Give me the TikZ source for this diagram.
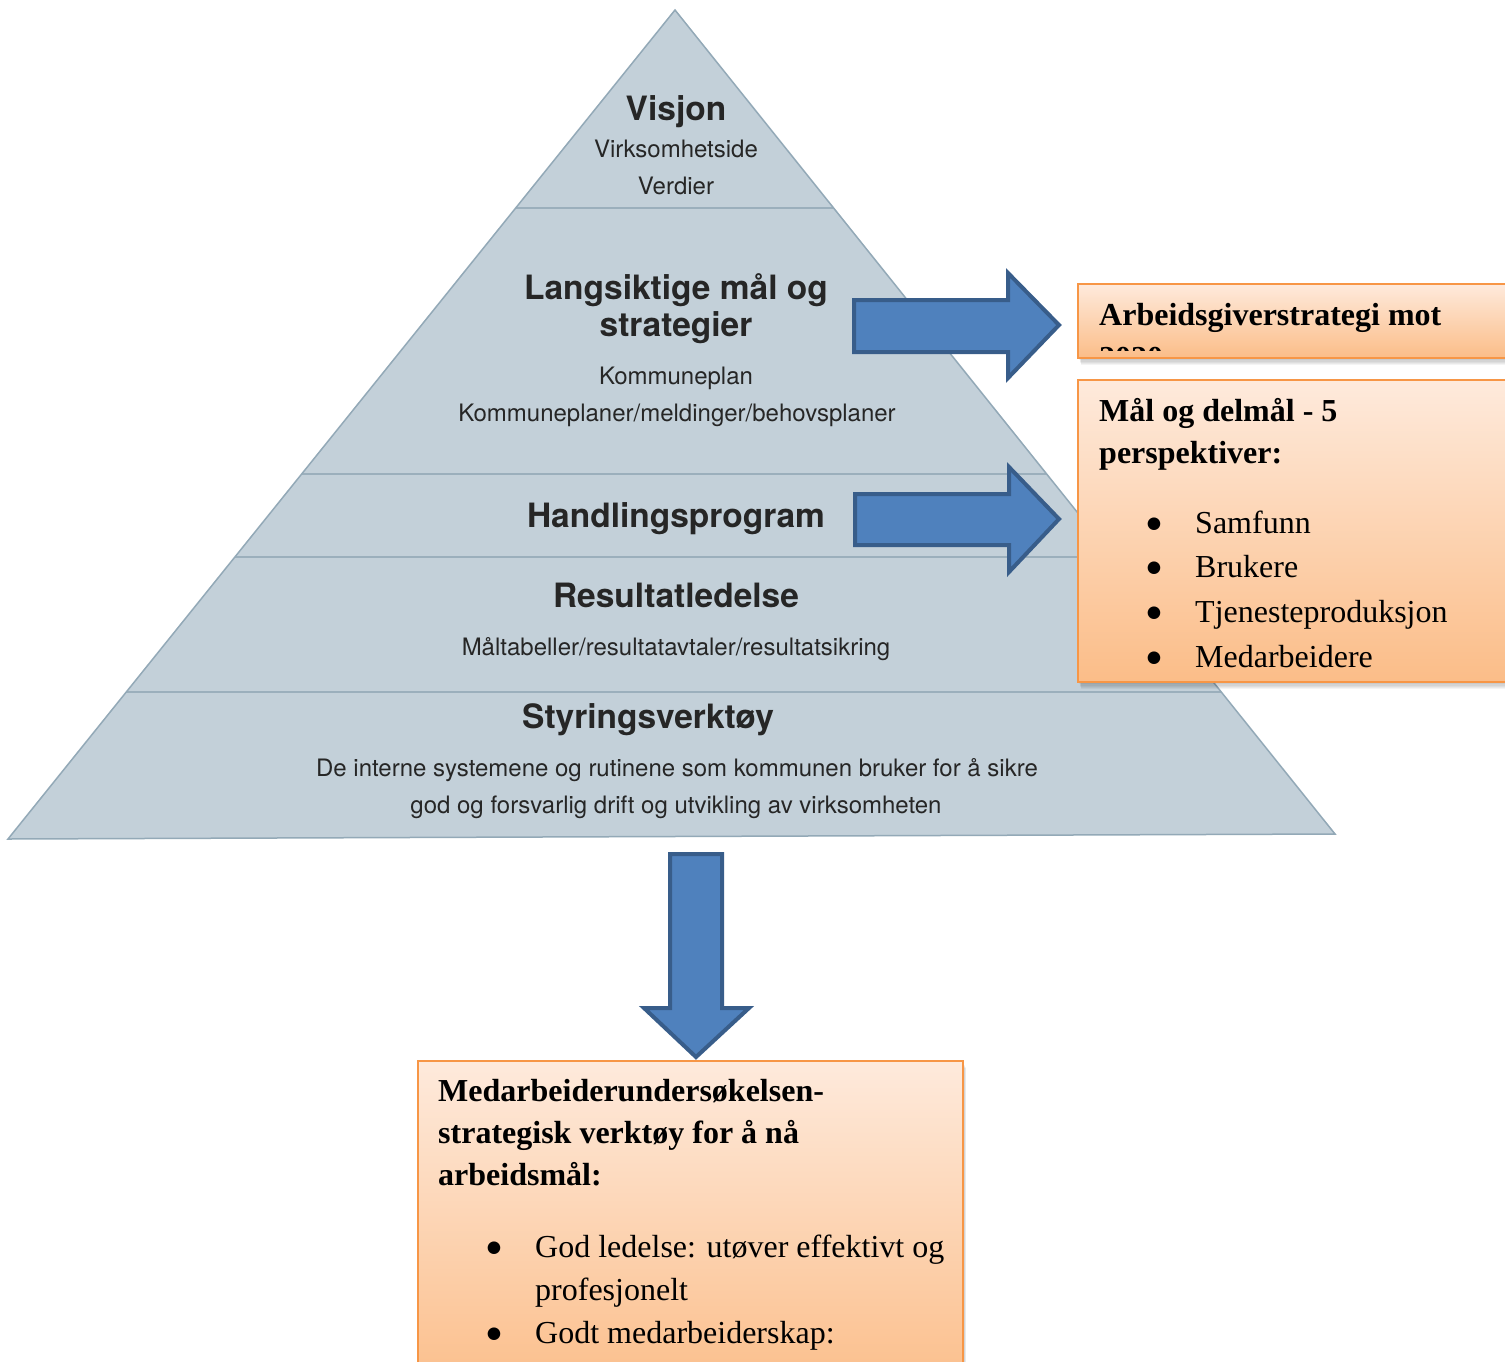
\documentclass[tikz,border=0pt]{standalone}
\usepackage{fontspec}
\setmainfont{Liberation Serif}
\newfontfamily\pyrsans{TeX Gyre Heros}
\newfontfamily\dotfont{DejaVu Sans}

\definecolor{pyrfill}{HTML}{C3D0D9}
\definecolor{pyredge}{HTML}{93A9B7}
\definecolor{pyrline}{HTML}{9BAFBC}
\definecolor{pyrtext}{HTML}{262626}
\definecolor{arrfill}{HTML}{4F81BD}
\definecolor{arredge}{HTML}{385D8A}
\definecolor{boxedge}{HTML}{F79646}
\definecolor{boxtop}{HTML}{FEEADC}
\definecolor{boxbot}{HTML}{FBBD88}

\tikzset{
  pyrtitle/.style={font=\pyrsans\bfseries\fontsize{33.5}{40}\selectfont,
    text=pyrtext, inner sep=0pt, anchor=base},
  pyrsub/.style={font=\pyrsans\fontsize{24}{29}\selectfont,
    text=pyrtext, inner sep=0pt, anchor=base},
  blockarrow/.style={fill=arrfill, draw=arredge, line width=4pt, line join=miter},
  orangebox/.style={top color=boxtop, bottom color=boxbot, draw=boxedge,
    line width=2.5pt, inner sep=0pt, outer sep=0pt, anchor=north west},
  boxhead/.style={font=\bfseries\fontsize{32}{38}\selectfont, inner sep=0pt, anchor=base west},
  boxitem/.style={font=\fontsize{32}{38}\selectfont, inner sep=0pt, anchor=base west},
  boxbullet/.style={font=\dotfont\fontsize{16.5}{18}\selectfont, inner sep=0pt, anchor=base},
  layerline/.style={draw=pyrline, line width=2pt},
}

% soft shadow below a box: stacked, slightly offset translucent rectangles
\newcommand\softshade[4]{%
  \foreach \k in {1,...,6}{%
    \fill[black, opacity=0.045] (#1+\k*0.5,#2+\k*1.2) rectangle (#3+\k*0.5,#4+\k*1.2);}}

\begin{document}
\begin{tikzpicture}[x=1pt, y=-1pt]
\useasboundingbox (0,0) rectangle (1505,1361);
\clip (0,0) rectangle (1505,1361);
\fill[white] (0,0) rectangle (1505,1361);

% ---- pyramid ----
\coordinate (apex) at (675,10);
\coordinate (baseR) at (1335,834);
\coordinate (baseL) at (8,839);
\fill[pyrfill] (apex) -- (baseR) -- (baseL) -- cycle;
\begin{scope}
  \clip (apex) -- (baseR) -- (baseL) -- cycle;
  \draw[layerline] (0,208) -- (1505,208);
  \draw[layerline] (0,474) -- (1505,474);
  \draw[layerline] (0,557) -- (1505,557);
  \draw[layerline] (0,692) -- (1505,692);
\end{scope}
\draw[pyredge, line width=1.5pt, line join=miter] (apex) -- (baseR) -- (baseL) -- cycle;

% layer texts
\node[pyrtitle] (visjon) at (676,120) {Visjon};
\node[pyrsub] (visjonA) at (676,157) {Virksomhetside};
\node[pyrsub] (visjonB) at (676,194) {Verdier};

\node[pyrtitle] (langA) at (676,299) {Langsiktige mål og};
\node[pyrtitle] (langB) at (676,336) {strategier};
\node[pyrsub] (langC) at (676,384) {Kommuneplan};
\node[pyrsub] (langD) at (677,421) {Kommuneplaner/meldinger/behovsplaner};

\node[pyrtitle] (handling) at (676,527) {Handlingsprogram};

\node[pyrtitle] (resultat) at (676,607) {Resultatledelse};
\node[pyrsub] (resultatA) at (676,655) {Måltabeller/resultatavtaler/resultatsikring};

\node[pyrtitle] (styring) at (648,728) {Styringsverktøy};
\node[pyrsub] (styringA) at (677,776) {De interne systemene og rutinene som kommunen bruker for å sikre};
\node[pyrsub] (styringB) at (676,813) {god og forsvarlig drift og utvikling av virksomheten};

% ---- block arrows ----
\coordinate (tipA) at (1059,325);
\draw[blockarrow] (854,300) -- (1008,300) -- (1008,273) -- (tipA)
  -- (1008,378) -- (1008,352) -- (854,352) -- cycle;
\coordinate (tipB) at (1059,519);
\draw[blockarrow] (855,494) -- (1009,494) -- (1009,467) -- (tipB)
  -- (1009,572) -- (1009,545) -- (855,545) -- cycle;
\coordinate (tipC) at (696,1057);
\draw[blockarrow] (670,854) -- (722,854) -- (722,1008) -- (749,1008) -- (tipC)
  -- (644,1008) -- (670,1008) -- cycle;

% ---- strategy box ----
\softshade{1078}{284}{1525}{358}
\node[orangebox, minimum width=447pt, minimum height=74pt] (strategy) at (1078,284) {};
\node[boxhead] (strategyA) at (1099,325) {Arbeidsgiverstrategi mot};
\begin{scope}
  \clip (1080,286) rectangle (1505,350);
  \node[boxhead] (strategyB) at (1099,368) {2020};
\end{scope}

% ---- goals box ----
\softshade{1078}{380}{1525}{682}
\node[orangebox, minimum width=447pt, minimum height=302pt] (goals) at (1078,380) {};
\node[boxhead] (goalsA) at (1099,421) {Mål og delmål - 5};
\node[boxhead] (goalsB) at (1099,463) {perspektiver:};
\foreach \y/\t/\n in {533/Samfunn/g1, 577/Brukere/g2, 622/Tjenesteproduksjon/g3, 667/Medarbeidere/g4}{
  \node[boxbullet] (\n b) at (1154,\y-5) {●};
  \node[boxitem] (\n) at (1195,\y) {\t};
}

% ---- survey box ----
\softshade{418}{1061}{963}{1400}
\node[orangebox, minimum width=545pt, minimum height=339pt] (survey) at (418,1061) {};
\node[boxhead] (surveyA) at (438,1101) {Medarbeiderundersøkelsen-};
\node[boxhead] (surveyB) at (438,1143) {strategisk verktøy for å nå};
\node[boxhead] (surveyC) at (438,1185) {arbeidsmål:};
\node[boxbullet] (s1b) at (494,1252) {●};
\node[boxitem] (s1) at (535,1257) {God ledelse: utøver effektivt og};
\node[boxitem] (s1c) at (535,1300) {profesjonelt};
\node[boxbullet] (s2b) at (494,1338) {●};
\node[boxitem] (s2) at (535,1343) {Godt medarbeiderskap:};
\end{tikzpicture}
\end{document}
